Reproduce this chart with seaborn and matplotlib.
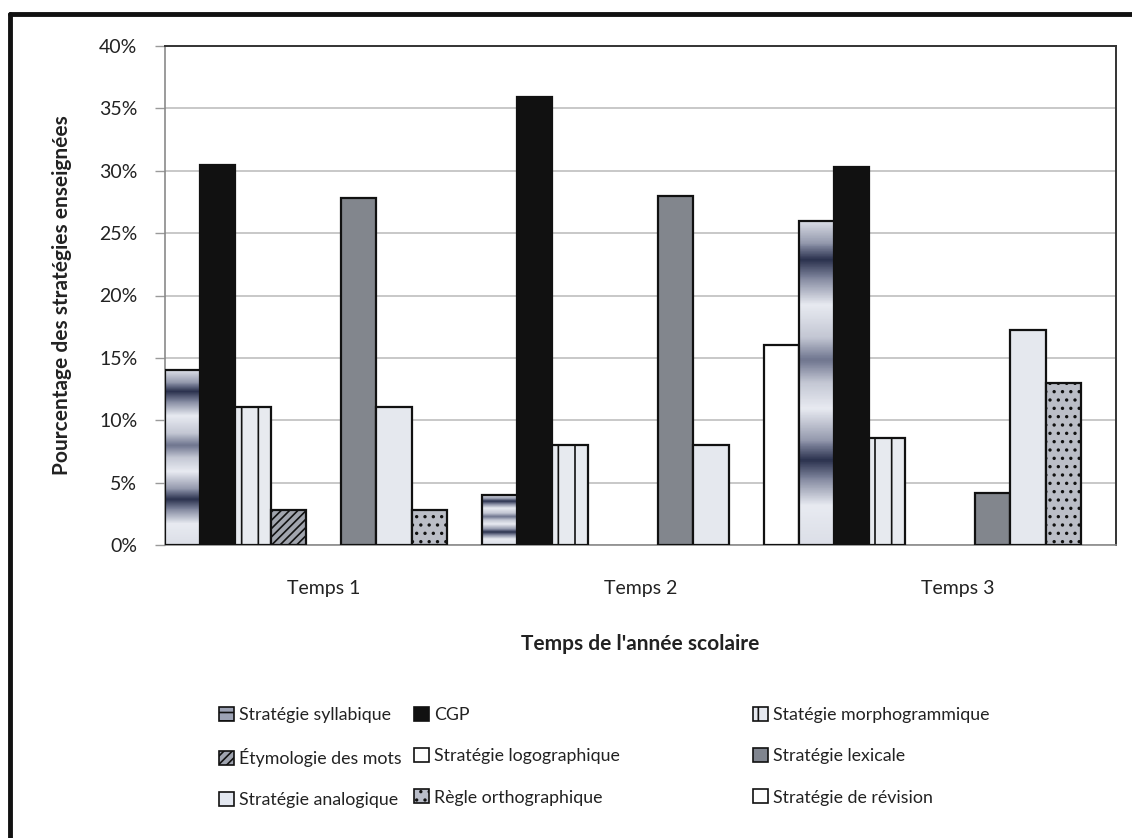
import numpy as np
import pandas as pd
import matplotlib
matplotlib.use("Agg")
import matplotlib.pyplot as plt
import seaborn as sns
from matplotlib.patches import Patch
from matplotlib.lines import Line2D
from matplotlib.colors import LinearSegmentedColormap

# ---- data -------------------------------------------------------------
categories = ["Temps 1", "Temps 2", "Temps 3"]
series = [
    "Stratégie syllabique",
    "CGP",
    "Statégie morphogrammique",
    "Étymologie des mots",
    "Stratégie logographique",
    "Stratégie lexicale",
    "Stratégie analogique",
    "Règle orthographique",
    "Stratégie de révision",
]
syllabique = [14.0, 4.0, 26.0]
cgp = [30.5, 35.9, 30.3]
morphogrammique = [11.1, 8.0, 8.6]
etymologie = [2.8, 0.0, 0.0]
logographique = [0.0, 0.0, 0.0]
lexicale = [27.8, 28.0, 4.2]
analogique = [11.1, 8.0, 17.2]
regle = [2.8, 0.0, 13.0]
revision = [0.0, 16.0, 0.0]
yticks = [0, 5, 10, 15, 20, 25, 30, 35, 40]

values = [syllabique, cgp, morphogrammique, etymologie, logographique,
          lexicale, analogique, regle, revision]

rows = []
for name, vals in zip(series, values):
    for cat, v in zip(categories, vals):
        rows.append({"Temps": cat, "Stratégie": name, "Pourcentage": v})
df = pd.DataFrame(rows)

# ---- styles -----------------------------------------------------------
faces = ["#c9cdd9", "#111111", "#e6e9f0", "#9fa4b0", "#ffffff",
         "#80858f", "#e3e7f0", "#b9bdc9", "#ffffff"]
hatches = [None, None, "|", "////", None, None, None, "..", None]

sns.set_theme(style="white")
plt.rcParams["font.family"] = ["Lato", "DejaVu Sans"]
plt.rcParams["hatch.color"] = "#3a3d45"
plt.rcParams["hatch.linewidth"] = 1.2

fig = plt.figure(figsize=(11.32, 8.38), dpi=100)
ax = fig.add_axes([165 / 1132, 1 - 545 / 838, (1116 - 165) / 1132, (545 - 46) / 838])

sns.barplot(data=df, x="Temps", y="Pourcentage", hue="Stratégie",
            order=categories, hue_order=series, palette=faces,
            width=1.0, gap=0, errorbar=None, edgecolor="#111111",
            linewidth=1.6, legend=False, ax=ax, zorder=3)

# metallic banded fill for the syllabic strategy (bottom -> top of each bar)
band_pos = [0.0, 0.12, 0.20, 0.26, 0.32, 0.42, 0.50, 0.57, 0.64, 0.74, 0.82, 0.88, 0.93, 1.0]
band_val = [0.90, 0.95, 0.55, 0.08, 0.60, 0.95, 0.80, 0.45, 0.80, 0.95, 0.55, 0.08, 0.60, 0.90]
metal = LinearSegmentedColormap.from_list("metal", ["#1c2340", "#7a8098", "#f4f6fb"])
grad = np.interp(np.linspace(0, 1, 200), band_pos, band_val)[:, None]

for i, cont in enumerate(ax.containers):
    for bar in cont:
        h = bar.get_height()
        if h == 0:
            bar.set_linewidth(0)
            bar.set_visible(False)
            continue
        if hatches[i]:
            bar.set_hatch(hatches[i])
        if i == 0:
            x0 = bar.get_x()
            w = bar.get_width()
            im = ax.imshow(grad, cmap=metal, vmin=0, vmax=1, aspect="auto",
                           origin="lower", extent=[x0, x0 + w, 0, h], zorder=3.5)
            im.set_clip_path(bar)
            bar.set_zorder(4)
            bar.set_facecolor("none")

ax.set_xlim(-0.5, 2.5)
ax.set_ylim(0, 40)
ax.set_yticks(yticks)
ax.set_yticklabels([f"{t}%" for t in yticks], fontsize=14, color="#222222")
ax.tick_params(axis="x", labelsize=14, colors="#222222", length=0, pad=25)
ax.tick_params(axis="y", length=7, width=1, color="#9a9a9a", direction="out", pad=13, left=True)
ax.yaxis.grid(True, color="#c4c4c4", linewidth=1.3, zorder=0)
ax.set_axisbelow(True)
for side in ["left", "bottom"]:
    ax.spines[side].set_color("#8a8a8a")
    ax.spines[side].set_linewidth(1.2)
for side in ["top", "right"]:
    ax.spines[side].set_color("#333333")
    ax.spines[side].set_linewidth(1.4)

ax.set_xlabel("Temps de l'année scolaire", fontsize=15, fontweight="bold",
              color="#222222", labelpad=27)
ax.set_ylabel("Pourcentage des stratégies enseignées", fontsize=15,
              fontweight="bold", color="#222222", labelpad=19)

# ---- legend: three columns -----------------------------------------------
handles = []
for i, name in enumerate(series):
    if i == 0:
        h = Patch(facecolor="#9da3b5", edgecolor="#111111", hatch="--",
                  label=name, linewidth=1.2)
    else:
        h = Patch(facecolor=faces[i], edgecolor="#111111", hatch=hatches[i],
                  label=name, linewidth=1.2)
    handles.append(h)

col_x = [219 / 1132, 414 / 1132, 753 / 1132]
for c in range(3):
    col_handles = [handles[r * 3 + c] for r in range(3)]
    fig.legend(handles=col_handles, loc="upper left",
               bbox_to_anchor=(col_x[c], 1 - 707 / 838), ncol=1, frameon=False,
               fontsize=12.8, handlelength=0.85, handleheight=0.85,
               handletextpad=0.3, labelspacing=1.4, borderaxespad=0,
               borderpad=0, labelcolor="#222222")

# outer chart frame (left and top edges)
fig.add_artist(Line2D([10 / 1132, 10 / 1132], [0, 1 - 14 / 838],
                      transform=fig.transFigure, color="#111111", linewidth=3.5))
fig.add_artist(Line2D([10 / 1132, 1.0], [1 - 14 / 838, 1 - 14 / 838],
                      transform=fig.transFigure, color="#111111", linewidth=3.5))

fig.savefig("out.png", dpi=100, facecolor="white")
